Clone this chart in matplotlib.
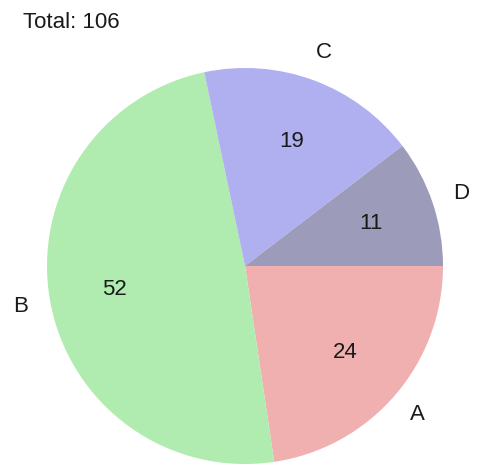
import matplotlib
matplotlib.use("Agg")
import matplotlib.pyplot as plt

labels = ["A", "B", "C", "D"]
values = [24, 52, 19, 11]
colors = ["#f0b0b0", "#b0ecb0", "#b0b0f0", "#9c9cba"]

plt.rcParams["font.family"] = ["Liberation Sans", "DejaVu Sans"]

W, H = 493, 472
fig = plt.figure(figsize=(W / 100, H / 100), dpi=100)
fig.patch.set_facecolor("white")

cx, cy, r = 245, 266, 198
ax = fig.add_axes([(cx - r) / W, (H - cy - r) / H, 2 * r / W, 2 * r / H])

ax.pie(
    values,
    labels=labels,
    colors=colors,
    startangle=0,
    counterclock=False,
    autopct=lambda p: f"{round(p * sum(values) / 100):d}",
    pctdistance=0.67,
    labeldistance=1.15,
    wedgeprops=dict(linewidth=0),
    textprops=dict(fontsize=16, color="#1a1a1a"),
)
for t in ax.texts:
    t.set_ha("center")
    t.set_va("center")
ax.set_xlim(-1, 1)
ax.set_ylim(-1, 1)
ax.set_aspect("equal")
ax.axis("off")

fig.text(23 / W, (H - 28) / H, f"Total: {sum(values)}", fontsize=16,
         color="#1a1a1a", ha="left", va="baseline")

fig.savefig("out.png", dpi=100, facecolor="white")
